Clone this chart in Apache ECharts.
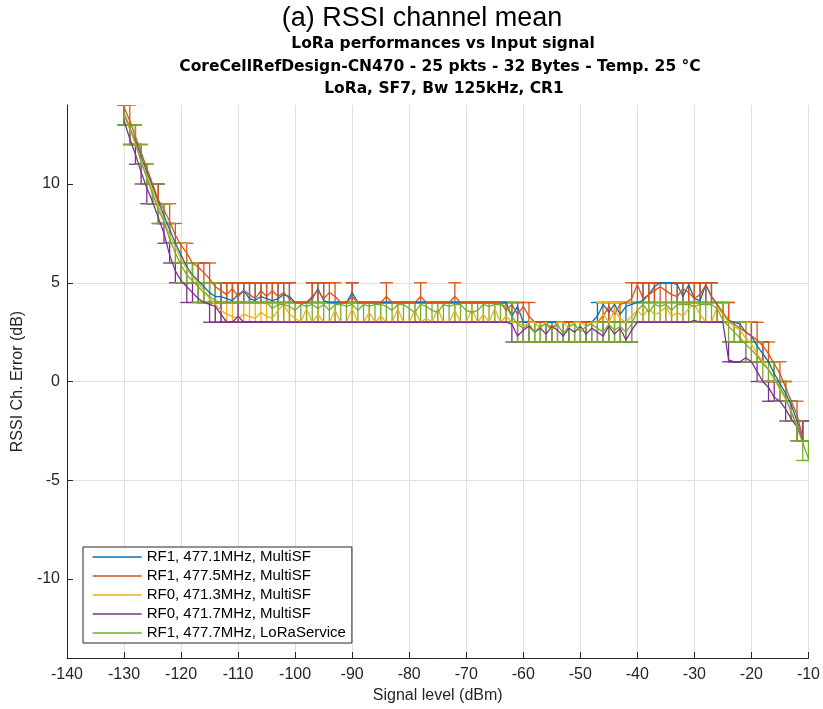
<!DOCTYPE html>
<html><head><meta charset="utf-8">
<script src="https://cdn.jsdelivr.net/npm/echarts@6.0.0/dist/echarts.min.js"></script>
<style>html,body{margin:0;padding:0;background:#fff}#chart{width:823px;height:709px}</style>
</head><body><div id="chart"></div>
<script>
const signalLevels = [
  -130,-129,-128,-127,-126,-125,-124,-123,-122,-121,
  -120,-119,-118,-117,-116,-115,-114,-113,-112,-111,
  -110,-109,-108,-107,-106,-105,-104,-103,-102,-101,
  -100,-99,-98,-97,-96,-95,-94,-93,-92,-91,
  -90,-89,-88,-87,-86,-85,-84,-83,-82,-81,
  -80,-79,-78,-77,-76,-75,-74,-73,-72,-71,
  -70,-69,-68,-67,-66,-65,-64,-63,-62,-61,
  -60,-59,-58,-57,-56,-55,-54,-53,-52,-51,
  -50,-49,-48,-47,-46,-45,-44,-43,-42,-41,
  -40,-39,-38,-37,-36,-35,-34,-33,-32,-31,
  -30,-29,-28,-27,-26,-25,-24,-23,-22,-21,
  -20,-19,-18,-17,-16,-15,-14,-13,-12,-11,
  -10
];

const seriesNames = [
  'RF1, 477.1MHz, MultiSF',
  'RF1, 477.5MHz, MultiSF',
  'RF0, 471.3MHz, MultiSF',
  'RF0, 471.7MHz, MultiSF',
  'RF1, 477.7MHz, LoRaService'
];

const titleText = '(a) RSSI channel mean';
const subtitleLines = [
  'LoRa performances vs Input signal',
  'CoreCellRefDesign-CN470 - 25 pkts - 32 Bytes - Temp. 25 °C',
  'LoRa, SF7, Bw 125kHz, CR1'
];

// ---- RF1 477.1 (blue)
const blueMean = [
  13.5,12.8,12.2,11.4,10.6,9.9,9.1,8.4,7.7,7.0,
  6.4,5.8,5.4,5.1,4.8,4.5,4.3,4.3,4.2,4.1,
  4.4,4.6,4.2,4.1,4.3,4.2,4.1,4.2,4.4,4.3,
  4.0,4.0,4.0,4.2,4.7,4.1,4.0,4.0,4.0,4.0,
  4.5,4.0,4.0,4.0,4.0,4.0,4.0,4.0,4.0,4.0,
  4.0,4.0,4.0,4.0,4.0,4.0,4.0,4.0,4.0,4.0,
  4.0,4.0,4.0,4.0,4.0,4.0,4.0,4.0,3.3,3.8,
  3.0,3.0,3.0,3.0,3.0,3.0,3.0,3.0,3.0,3.0,
  3.0,3.0,3.0,3.3,3.9,3.5,3.9,3.4,3.8,3.9,
  4.0,4.1,4.4,4.8,5.0,5.0,5.0,4.9,4.3,4.9,
  4.2,4.1,4.9,4.3,3.9,3.4,3.1,3.0,2.9,2.5,
  2.3,1.8,1.4,1.0,0.4,-0.1,-0.6,-1.2,-2.0,-2.9,
  null
];
const blueLow = [
  13,12,12,11,10,9,9,8,7,7,
  6,5,5,5,4,4,4,4,4,4,
  4,4,4,4,4,4,4,4,4,4,
  4,4,4,4,4,4,4,4,4,4,
  4,4,4,4,4,4,4,4,4,4,
  4,4,4,4,4,4,4,4,4,4,
  4,4,4,4,4,4,4,4,3,3,
  3,3,3,3,3,3,3,3,3,3,
  3,3,3,3,3,3,3,3,3,3,
  4,4,4,4,5,5,5,4,4,4,
  4,4,4,4,3,3,3,3,2,2,
  2,1,1,1,0,-1,-1,-2,-2,-3,
  null
];
const blueHigh = [
  14,13,13,12,11,10,10,9,8,7,
  7,6,6,6,5,5,5,5,5,5,
  5,5,5,5,5,5,5,5,5,5,
  4,4,4,5,5,5,4,4,4,4,
  5,4,4,4,4,4,4,4,4,4,
  4,4,4,4,4,4,4,4,4,4,
  4,4,4,4,4,4,4,4,4,4,
  3,3,3,3,3,3,3,3,3,3,
  3,3,3,4,4,4,4,4,4,4,
  4,5,5,5,5,5,5,5,5,5,
  5,5,5,5,4,4,4,3,3,3,
  3,2,2,1,1,0,0,-1,-2,-2,
  null
];

// ---- RF1 477.5 (orange)
const orangeMean = [
  13.9,13.2,12.4,11.6,10.8,10.0,9.2,8.7,8.1,7.4,
  6.9,6.5,6.0,5.8,5.5,5.2,4.8,4.6,4.4,4.7,
  4.3,4.6,4.4,4.2,4.6,4.3,4.6,4.3,4.5,4.2,
  4.0,4.0,4.0,4.3,4.6,4.2,4.5,4.3,4.0,4.0,
  4.3,4.0,4.0,4.0,4.0,4.0,4.3,4.0,4.0,4.0,
  4.0,4.0,4.3,4.0,4.0,4.0,4.0,4.0,4.3,4.0,
  4.0,4.0,4.0,4.0,4.0,4.0,4.0,3.6,3.9,3.4,
  3.8,3.3,3.0,3.0,3.0,2.7,3.0,3.0,3.0,3.0,
  3.0,3.0,3.0,3.0,3.3,3.8,3.4,3.9,4.0,4.2,
  4.9,4.2,4.4,4.6,4.8,4.6,4.4,4.3,4.7,4.5,
  4.2,4.4,4.9,4.3,3.9,3.5,3.1,2.9,2.7,2.5,
  2.3,2.1,1.8,1.4,0.9,0.4,-0.3,-1.0,-1.7,-2.8,
  null
];
const orangeLow = [
  13,13,12,11,10,10,9,8,8,7,
  6,6,6,5,5,5,4,4,4,4,
  4,4,4,4,4,4,4,4,4,4,
  4,4,4,4,4,4,4,4,4,4,
  4,4,4,4,4,4,4,4,4,4,
  4,4,4,4,4,4,4,4,4,4,
  4,4,4,4,4,4,4,3,3,3,
  3,3,3,3,3,2,3,3,3,3,
  3,3,3,3,3,3,3,3,4,4,
  4,4,4,4,4,4,4,4,4,4,
  4,4,4,4,3,3,3,2,2,2,
  2,2,1,1,0,0,-1,-1,-2,-3,
  null
];
const orangeHigh = [
  14,14,13,12,11,10,10,9,9,8,
  7,7,6,6,6,6,5,5,5,5,
  5,5,5,5,5,5,5,5,5,5,
  4,4,4,5,5,5,5,5,4,4,
  5,4,4,4,4,4,5,4,4,4,
  4,4,5,4,4,4,4,4,5,4,
  4,4,4,4,4,4,4,4,4,4,
  4,4,3,3,3,3,3,3,3,3,
  3,3,3,3,4,4,4,4,4,5,
  5,5,5,5,5,5,5,5,5,5,
  5,5,5,5,4,4,4,3,3,3,
  3,3,2,2,1,1,0,-1,-1,-2,
  null
];

// ---- RF0 471.3 (yellow)
const yellowMean = [
  13.5,12.8,12.0,11.2,10.4,9.7,8.9,8.2,7.4,6.8,
  6.2,5.7,5.3,5.0,4.6,4.2,3.9,3.6,3.4,3.3,
  3.2,3.4,3.3,3.2,3.5,3.3,3.2,3.6,3.9,3.4,
  3.2,3.0,3.7,3.0,3.4,3.0,3.0,3.6,3.0,3.0,
  3.7,3.0,3.0,3.5,3.0,3.3,3.0,3.0,3.7,3.0,
  3.0,3.6,3.0,3.2,3.0,3.7,3.0,3.0,3.6,3.0,
  3.0,3.7,3.0,3.4,3.0,3.7,3.0,3.3,3.0,3.0,
  2.8,3.0,3.0,2.7,3.0,2.6,3.0,3.0,2.7,3.0,
  3.0,2.8,3.0,3.0,3.4,3.0,3.6,3.2,3.0,3.3,
  3.6,3.3,3.7,3.4,3.5,3.8,3.3,3.5,3.3,3.7,
  3.9,3.4,3.0,3.0,3.8,3.4,3.0,2.8,2.6,2.2,
  1.9,1.4,1.0,0.6,0.1,-0.4,-0.9,-1.5,-2.2,-2.9,
  null
];
const yellowLow = [
  13,12,12,11,10,9,8,8,7,6,
  6,5,5,5,4,4,3,3,3,3,
  3,3,3,3,3,3,3,3,3,3,
  3,3,3,3,3,3,3,3,3,3,
  3,3,3,3,3,3,3,3,3,3,
  3,3,3,3,3,3,3,3,3,3,
  3,3,3,3,3,3,3,3,3,3,
  2,3,3,2,3,2,3,3,2,3,
  3,2,3,3,3,3,3,3,3,3,
  3,3,3,3,3,3,3,3,3,3,
  3,3,3,3,3,3,3,2,2,2,
  1,1,1,0,0,-1,-1,-2,-3,-3,
  null
];
const yellowHigh = [
  14,13,12,12,11,10,9,9,8,7,
  7,6,6,5,5,5,4,4,4,4,
  4,4,4,4,4,4,4,4,4,4,
  4,3,4,3,4,3,3,4,3,3,
  4,3,3,4,3,4,3,3,4,3,
  3,4,3,4,3,4,3,3,4,3,
  3,4,3,4,3,4,3,4,3,3,
  3,3,3,3,3,3,3,3,3,3,
  3,3,3,3,4,3,4,4,3,4,
  4,4,4,4,4,4,4,4,4,4,
  4,4,3,3,4,4,3,3,3,3,
  2,2,1,1,1,0,0,-1,-2,-2,
  null
];

// ---- RF0 471.7 (purple)
const purpleMean = [
  13.2,12.3,11.5,10.6,9.8,9.1,8.3,7.5,6.4,5.6,
  5.1,4.8,4.5,4.2,4.0,3.9,3.8,3.4,3.0,3.0,
  3.3,3.0,3.0,3.0,3.0,3.0,3.0,3.0,3.0,3.0,
  3.0,3.0,3.0,3.0,3.0,3.0,3.0,3.0,3.0,3.0,
  3.0,3.0,3.0,3.0,3.0,3.0,3.0,3.0,3.0,3.0,
  3.0,3.0,3.0,3.0,3.0,3.0,3.0,3.0,3.0,3.0,
  3.0,3.0,3.0,3.0,3.0,3.0,3.0,3.0,2.9,2.3,
  2.6,2.8,2.5,2.7,2.4,2.8,2.6,2.3,2.7,2.5,
  2.8,2.4,2.7,2.5,2.3,2.8,2.4,2.7,2.1,2.6,
  3.0,3.0,3.0,3.0,3.0,3.0,3.0,3.0,3.0,3.0,
  3.1,3.0,3.0,3.0,3.0,3.0,1.1,1.0,1.0,1.2,
  1.0,0.5,0.0,-0.3,-0.8,-1.0,-1.4,-1.9,-2.3,-2.9,
  null
];
const purpleLow = [
  13,12,11,10,9,9,8,7,6,5,
  5,4,4,4,4,3,3,3,3,3,
  3,3,3,3,3,3,3,3,3,3,
  3,3,3,3,3,3,3,3,3,3,
  3,3,3,3,3,3,3,3,3,3,
  3,3,3,3,3,3,3,3,3,3,
  3,3,3,3,3,3,3,3,2,2,
  2,2,2,2,2,2,2,2,2,2,
  2,2,2,2,2,2,2,2,2,2,
  3,3,3,3,3,3,3,3,3,3,
  3,3,3,3,3,3,1,1,1,1,
  1,0,0,-1,-1,-1,-2,-2,-3,-3,
  null
];
const purpleHigh = [
  14,13,12,11,10,10,9,8,7,6,
  6,5,5,5,4,4,4,4,3,3,
  4,3,3,3,3,3,3,3,3,3,
  3,3,3,3,3,3,3,3,3,3,
  3,3,3,3,3,3,3,3,3,3,
  3,3,3,3,3,3,3,3,3,3,
  3,3,3,3,3,3,3,3,3,3,
  3,3,3,3,3,3,3,3,3,3,
  3,3,3,3,3,3,3,3,3,3,
  3,3,3,3,3,3,3,3,3,3,
  4,3,3,3,3,3,2,1,1,2,
  1,1,0,0,0,-1,-1,-1,-2,-2,
  null
];

// ---- RF1 477.7 LoRaService (green)
const greenMean = [
  13.6,12.9,12.1,11.1,10.3,9.5,8.7,8.1,7.2,6.5,
  5.9,5.4,5.1,4.8,4.5,4.3,4.1,4.0,4.0,4.0,
  4.0,4.0,4.0,4.0,4.0,4.0,3.7,3.9,3.9,3.8,
  3.6,3.9,3.8,3.9,3.7,3.9,3.6,3.9,3.9,3.8,
  3.9,3.6,3.9,3.8,3.9,3.9,3.8,3.6,3.9,3.9,
  3.7,3.5,3.9,3.8,3.6,3.5,3.9,3.8,3.9,3.9,
  3.6,3.5,3.6,3.9,3.8,3.9,3.9,3.8,3.3,2.9,
  2.7,2.9,2.5,2.8,2.9,2.6,2.9,2.4,2.8,2.9,
  2.5,2.8,2.9,2.7,2.5,2.9,2.6,2.8,2.5,2.9,
  3.6,3.9,3.5,3.9,3.8,3.9,3.6,3.9,3.9,3.9,
  3.8,3.9,3.9,3.9,3.7,3.1,2.8,2.5,2.2,1.9,
  1.6,1.3,0.9,0.6,0.2,-0.3,-0.8,-1.6,-2.3,-3.1,
  -3.9
];
const greenLow = [
  13,12,12,11,10,9,8,8,7,6,
  5,5,5,4,4,4,4,4,4,4,
  4,4,4,4,4,4,3,3,3,3,
  3,3,3,3,3,3,3,3,3,3,
  3,3,3,3,3,3,3,3,3,3,
  3,3,3,3,3,3,3,3,3,3,
  3,3,3,3,3,3,3,3,3,2,
  2,2,2,2,2,2,2,2,2,2,
  2,2,2,2,2,2,2,2,2,2,
  3,3,3,3,3,3,3,3,3,3,
  3,3,3,3,3,3,2,2,2,1,
  1,1,0,0,0,-1,-1,-2,-3,-4,
  -4
];
const greenHigh = [
  14,13,13,12,11,10,9,9,8,7,
  6,6,6,5,5,5,5,4,4,4,
  4,4,4,4,4,4,4,4,4,4,
  4,4,4,4,4,4,4,4,4,4,
  4,4,4,4,4,4,4,4,4,4,
  4,4,4,4,4,4,4,4,4,4,
  4,4,4,4,4,4,4,4,4,3,
  3,3,3,3,3,3,3,3,3,3,
  3,3,3,3,3,3,3,3,3,3,
  4,4,4,4,4,4,4,4,4,4,
  4,4,4,4,4,4,3,3,3,2,
  2,2,1,1,1,0,0,-1,-2,-3,
  -3
];

const yTickValues = [-10, -5, 0, 5, 10];
const colors = ['#0072BD', '#D95319', '#EDB120', '#7E2F8E', '#77AC30'];
const FONT = '"Liberation Sans", Arial, Helvetica, sans-serif';
const SUBFONT = '"DejaVu Sans", "Liberation Sans", Arial, sans-serif';

const means = [blueMean, orangeMean, yellowMean, purpleMean, greenMean];
const lows = [blueLow, orangeLow, yellowLow, purpleLow, greenLow];
const highs = [blueHigh, orangeHigh, yellowHigh, purpleHigh, greenHigh];

function errRenderer(color) {
  return function (params, api) {
    const x = api.value(0), lo = api.value(1), hi = api.value(2);
    const a = api.coord([x, lo]);
    const b = api.coord([x, hi]);
    const hw = 6.5;
    const style = { stroke: color, lineWidth: 1.3, fill: null };
    return {
      type: 'group',
      children: [
        { type: 'line', shape: { x1: a[0], y1: a[1], x2: b[0], y2: b[1] }, style: style },
        { type: 'line', shape: { x1: a[0] - hw, y1: a[1], x2: a[0] + hw, y2: a[1] }, style: style },
        { type: 'line', shape: { x1: b[0] - hw, y1: b[1], x2: b[0] + hw, y2: b[1] }, style: style }
      ]
    };
  };
}

const series = [];
seriesNames.forEach(function (name, i) {
  series.push({
    type: 'line',
    name: name,
    data: signalLevels.map(function (x, j) { return [x, means[i][j]]; }),
    symbol: 'none',
    showSymbol: false,
    connectNulls: false,
    lineStyle: { color: colors[i], width: 1.3 },
    itemStyle: { color: colors[i] },
    animation: false,
    clip: true
  });
  const errData = [];
  signalLevels.forEach(function (x, j) {
    if (lows[i][j] !== null && highs[i][j] !== null) errData.push([x, lows[i][j], highs[i][j]]);
  });
  series.push({
    type: 'custom',
    name: name + ' error',
    data: errData,
    encode: { x: 0, y: [1, 2] },
    renderItem: errRenderer(colors[i]),
    animation: false,
    clip: true,
    silent: true
  });
});

const chart = echarts.init(document.getElementById('chart'), null, { renderer: 'canvas' });
chart.setOption({
  backgroundColor: '#ffffff',
  animation: false,
  textStyle: { fontFamily: FONT },
  grid: { left: 67, right: 12, top: 105, bottom: 51, containLabel: false },
  graphic: [
    { type: 'text', x: 422, y: 19, style: { text: titleText, font: 'normal 27px ' + FONT, fill: '#000', textAlign: 'center', textVerticalAlign: 'middle' } },
    { type: 'text', x: 443, y: 44, style: { text: subtitleLines[0], font: 'bold 15.5px ' + SUBFONT, fill: '#000', textAlign: 'center', textVerticalAlign: 'middle' } },
    { type: 'text', x: 440, y: 66.5, style: { text: subtitleLines[1], font: 'bold 15.5px ' + SUBFONT, fill: '#000', textAlign: 'center', textVerticalAlign: 'middle' } },
    { type: 'text', x: 444, y: 89, style: { text: subtitleLines[2], font: 'bold 15.5px ' + SUBFONT, fill: '#000', textAlign: 'center', textVerticalAlign: 'middle' } }
  ],
  legend: {
    data: seriesNames,
    orient: 'vertical',
    left: 83,
    top: 547,
    itemWidth: 49,
    itemHeight: 14,
    itemGap: 3,
    padding: [2, 6, 2, 9],
    backgroundColor: '#ffffff',
    borderColor: '#262626',
    borderWidth: 1,
    borderRadius: 0,
    selectedMode: false,
    itemStyle: { opacity: 0 },
    lineStyle: { width: 1.3 },
    textStyle: { fontSize: 15, color: '#000', fontFamily: FONT, lineHeight: 16 }
  },
  xAxis: {
    type: 'value',
    min: -140,
    max: -10,
    interval: 10,
    name: 'Signal level (dBm)',
    nameLocation: 'middle',
    nameGap: 24,
    nameTextStyle: { fontSize: 16, color: '#262626', fontFamily: FONT },
    axisLine: { show: true, onZero: false, lineStyle: { color: '#262626', width: 1 } },
    axisTick: { show: true, inside: true, length: 6, lineStyle: { color: '#262626' } },
    axisLabel: { color: '#262626', fontSize: 16, margin: 9, fontFamily: FONT },
    splitLine: { show: true, lineStyle: { color: '#dfdfdf', width: 1 } }
  },
  yAxis: {
    type: 'value',
    min: -14,
    max: 14,
    name: 'RSSI Ch. Error (dB)',
    nameLocation: 'middle',
    nameGap: 33,
    nameRotate: 90,
    nameTextStyle: { fontSize: 16, color: '#262626', fontFamily: FONT },
    axisLine: { show: true, onZero: false, lineStyle: { color: '#262626', width: 1 } },
    axisTick: { show: true, inside: true, length: 6, customValues: yTickValues, lineStyle: { color: '#262626' } },
    axisLabel: { color: '#262626', fontSize: 16, margin: 7, fontFamily: FONT, customValues: yTickValues },
    splitLine: { show: true, showMinLine: false, showMaxLine: false, lineStyle: { color: '#dfdfdf', width: 1 } }
  },
  series: series
});
</script></body></html>
